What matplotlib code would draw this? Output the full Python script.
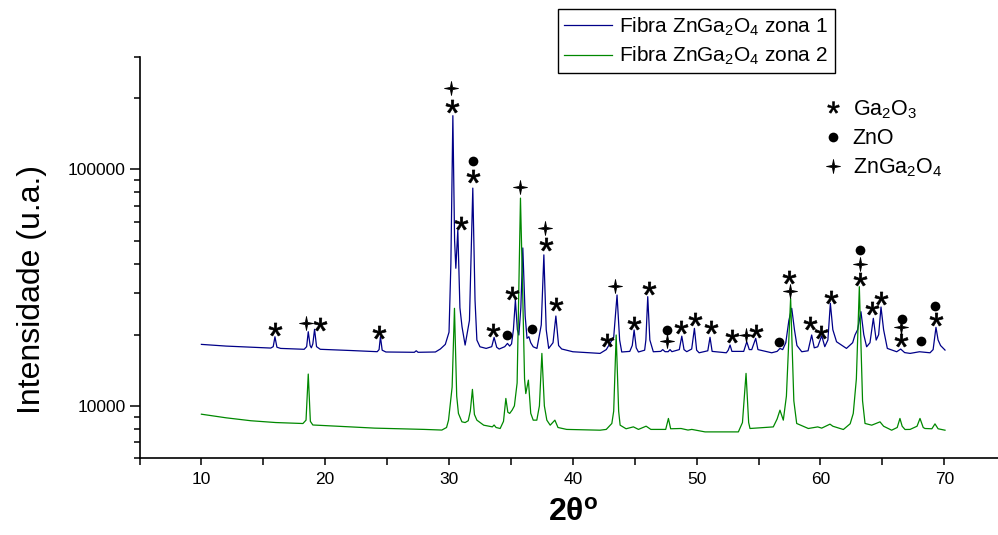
import matplotlib
matplotlib.use('Agg')
import matplotlib.pyplot as plt
from matplotlib.path import Path
from matplotlib.lines import Line2D
from matplotlib.ticker import FixedLocator, LogLocator, NullFormatter, FuncFormatter

plt.rcParams['font.family'] = ['Liberation Sans', 'DejaVu Sans']
plt.rcParams['mathtext.fontset'] = 'custom'
plt.rcParams['mathtext.rm'] = 'Liberation Sans'
plt.rcParams['mathtext.it'] = 'Liberation Sans:italic'
plt.rcParams['mathtext.bf'] = 'Liberation Sans:bold'

# ---------------- data ----------------
zona1_2theta = [10.0, 12.0, 14.0, 15.6, 15.8, 15.94, 16.1, 16.4,
                18.3, 18.5, 18.63, 18.78, 18.88, 19.0, 19.14, 19.3, 19.6,
                22.0, 24.2, 24.35, 24.46, 24.6, 24.9,
                27.2, 27.35, 27.5, 28.9, 29.3, 29.7, 30.0, 30.15, 30.31,
                30.45, 30.55, 30.71, 30.88, 31.05, 31.3, 31.65, 31.92, 32.1, 32.25, 32.5,
                33.0, 33.45, 33.64, 33.85, 34.05, 34.5, 34.72, 34.9, 35.05, 35.2, 35.36,
                35.52, 35.64, 35.8, 35.96, 36.15, 36.3, 36.45, 36.6, 36.8, 37.1, 37.45,
                37.66, 37.85, 38.05, 38.4, 38.63, 38.85, 39.1, 40.0, 42.2, 42.7, 43.0,
                43.3, 43.57, 43.78, 43.95, 44.6, 44.8, 44.95, 45.12, 45.3, 45.8, 45.9,
                46.05, 46.22, 46.5, 47.1, 47.26, 47.45, 47.7, 47.85, 48.0, 48.6, 48.8,
                48.98, 49.2, 49.6, 49.82, 50.0, 50.2, 50.9, 51.08, 51.25, 52.4, 52.55,
                52.7, 52.85, 53.8, 54.05, 54.25, 54.45, 54.77, 54.95, 56.06, 56.5, 56.73,
                56.95, 57.2, 57.45, 57.68, 57.9, 58.1, 58.49, 59.0, 59.29, 59.5, 59.78,
                60.1, 60.35, 60.6, 60.8, 61.0, 61.3, 62.1, 62.6, 62.79, 63.0, 63.27,
                63.5, 63.73, 64.0, 64.27, 64.5, 64.7, 64.89, 65.1, 65.4, 66.16, 66.48,
                66.8, 67.24, 68.0, 68.85, 69.1, 69.33, 69.5, 69.7, 70.06]
zona1_intensity = [18200, 17900, 17700, 17560, 17800, 19600, 17700, 17500,
                   17350, 17800, 20590, 18000, 17600, 18300, 21080, 17800, 17350,
                   17150, 16950, 17300, 19610, 17200, 16900,
                   16850, 17100, 16850, 16900, 17400, 18200, 20500, 40000, 168900,
                   50000, 38210, 55540, 26000, 21600, 18080, 23000, 83410, 28000, 18980, 17780,
                   17500, 17800, 19480, 17700, 17390, 17800, 18370, 17900, 18300, 21000, 28050,
                   21000, 19940, 26000, 46560, 24000, 19300, 19610, 18500, 17780, 17500, 22000,
                   43520, 21000, 17500, 18500, 23990, 18000, 17400, 16940, 16670, 17300, 18370,
                   19500, 29440, 19000, 16900, 17000, 18000, 20930, 17600, 16900, 17200, 19000,
                   28970, 19000, 16940, 17000, 17300, 16950, 16950, 17300, 16950, 17300, 19720,
                   17300, 16950, 17400, 21280, 17200, 16770, 17100, 19500, 17000, 16770, 17200,
                   18080, 17000, 17000, 18670, 17300, 17300, 19300, 17300, 16770, 17000, 17500,
                   17300, 18500, 23000, 25860, 21000, 18000, 16940, 17100, 19940, 17600, 17780,
                   19800, 17800, 19000, 27160, 21000, 18670, 17500, 18500, 19940, 21000, 25020,
                   20000, 17780, 18500, 23460, 18980, 20000, 26190, 21000, 17500, 16940, 17390,
                   16800, 16670, 16940, 16770, 17300, 21490, 19000, 18000, 17220]

zona2_2theta = [10.0, 12.0, 14.0, 16.0, 18.2, 18.45, 18.63, 18.8, 19.0, 20.0, 22.0,
                24.0, 26.0, 28.0, 29.42, 29.8, 29.96, 30.25, 30.44, 30.62, 30.76,
                31.04, 31.3, 31.55, 31.72, 31.89, 32.05, 32.25, 32.8, 33.5, 33.64,
                33.8, 34.13, 34.4, 34.59, 34.75, 34.9, 35.1, 35.28, 35.5, 35.77,
                35.95, 36.1, 36.2, 36.41, 36.6, 36.8, 37.09, 37.3, 37.5, 37.7,
                37.9, 38.17, 38.55, 38.8, 39.5, 42.2, 42.7, 43.15, 43.3, 43.5,
                43.7, 43.82, 44.3, 44.89, 45.3, 45.92, 46.3, 47.5, 47.72, 47.9,
                48.74, 49.3, 49.61, 50.68, 52.0, 53.37, 53.7, 53.99, 54.2, 54.31,
                56.19, 56.5, 56.73, 57.0, 57.25, 57.59, 57.85, 58.08, 59.02, 59.78,
                60.1, 60.77, 61.0, 61.85, 62.4, 62.65, 62.9, 63.14, 63.4, 63.6,
                64.14, 64.81, 65.1, 65.75, 66.2, 66.42, 66.6, 66.83, 67.24, 67.8,
                68.04, 68.3, 68.44, 69.0, 69.25, 69.5, 70.06]
zona2_intensity = [9220, 8900, 8650, 8500, 8420, 8700, 13630, 8600, 8300, 8250, 8150,
                   8050, 8000, 7950, 7900, 8100, 8700, 12000, 25860, 11000, 9290,
                   8560, 8500, 8650, 9500, 11740, 9200, 8700, 8285, 8150, 8300,
                   8100, 8020, 8600, 10750, 9400, 9290, 9600, 10000, 12500, 75660,
                   30000, 13000, 11270, 12850, 9300, 8700, 8700, 10000, 16670, 10000,
                   8700, 8285, 8700, 8100, 7950, 7890, 7950, 8424, 9500, 19940,
                   9500, 8285, 8000, 8150, 7950, 8204, 7950, 7950, 8845, 8000,
                   8021, 7900, 7950, 7760, 7760, 7760, 8500, 13720, 8500, 8021,
                   8147, 8800, 9590, 8700, 11000, 28520, 10500, 8424, 8021, 8147,
                   8050, 8368, 8200, 7943, 8400, 9287, 13000, 31930, 10500, 8424,
                   8285, 8557, 8200, 7889, 8100, 8845, 8200, 7943, 7950, 8200,
                   8845, 8100, 8021, 8000, 8390, 8000, 7889]

# phase identification marks (2theta, label height)
ga2o3_2theta = [19.54, 24.38, 30.28, 30.98, 31.92, 33.53, 35.12, 37.82, 38.65, 42.78,
                44.92, 46.16, 48.74, 49.87, 51.14, 52.88, 54.80, 57.49, 59.14, 60.03,
                60.89, 63.17, 64.20, 64.93, 66.54, 69.37, 15.94]
ga2o3_height = [22130, 20590, 186200, 59290, 93400, 20930, 29950, 48440, 26970, 18980,
                22400, 31450, 21490, 23310, 21610, 19740, 20790, 35210, 22340, 20460,
                28800, 34330, 25860, 28520, 18980, 23240, 21200]
zno_2theta = [31.97, 34.67, 36.71, 47.59, 56.68, 63.17, 66.59, 68.10, 69.29]
zno_height = [108900, 19940, 21080, 20930, 18670, 45680, 23240, 18850, 26530]
znga2o4_2theta = [18.47, 30.17, 35.74, 37.76, 43.41, 47.59, 53.96, 57.54, 63.17, 66.54]
znga2o4_height = [22470, 221300, 84220, 56790, 32030, 18850, 19940, 30720, 39730, 21490]

series_labels = ['Fibra ZnGa$_2$O$_4$ zona 1', 'Fibra ZnGa$_2$O$_4$ zona 2']
phase_labels = ['Ga$_2$O$_3$', 'ZnO', 'ZnGa$_2$O$_4$']
x_major_ticks = [10, 20, 30, 40, 50, 60, 70]
x_minor_ticks = [5, 15, 25, 35, 45, 55, 65]
y_major_ticks = [10000, 100000]

# ---------------- figure ----------------
W, H = 998, 535
fig = plt.figure(figsize=(W / 100, H / 100), dpi=100)
ax_l, ax_r, ax_t, ax_b = 139.5, 998, 56.7, 458.3
ax = fig.add_axes([ax_l / W, (H - ax_b) / H, (ax_r - ax_l) / W, (ax_b - ax_t) / H])
ax.set_yscale('log')
ax.set_xlim(5, 74.34)
ax.set_ylim(6000, 300000)

blue = '#000088'
green = '#008800'
l1, = ax.plot(zona1_2theta, zona1_intensity, color=blue, lw=0.9, label=series_labels[0])
l2, = ax.plot(zona2_2theta, zona2_intensity, color=green, lw=0.9, label=series_labels[1])

star_marker = '$*$'
cross_marker = Path.unit_regular_star(4, innerCircle=0.22)
ax.plot(ga2o3_2theta, ga2o3_height, ls='none', marker=star_marker, ms=9.5, color='k', mew=0.5, zorder=5)
ax.plot(zno_2theta, zno_height, ls='none', marker='o', ms=7, color='k', mew=0, zorder=5)
ax.plot(znga2o4_2theta, znga2o4_height, ls='none', marker=cross_marker, ms=10, color='k', mew=0.6, zorder=5)

for sp in ['top', 'right']:
    ax.spines[sp].set_visible(False)
for sp in ['left', 'bottom']:
    ax.spines[sp].set_linewidth(1.2)

ax.xaxis.set_major_locator(FixedLocator(x_major_ticks))
ax.xaxis.set_minor_locator(FixedLocator(x_minor_ticks))
ax.yaxis.set_major_locator(FixedLocator(y_major_ticks))
ax.yaxis.set_major_formatter(FuncFormatter(lambda v, p: '%d' % round(v)))
ax.yaxis.set_minor_locator(LogLocator(base=10, subs=[2, 3, 4, 5, 6, 7, 8, 9]))
ax.yaxis.set_minor_formatter(NullFormatter())
ax.tick_params(axis='both', which='both', direction='out', width=1.1, labelsize=12.5, colors='k')
ax.tick_params(axis='y', which='major', length=7, pad=3)
ax.tick_params(axis='y', which='minor', length=4.5)
ax.tick_params(axis='x', which='major', length=5, pad=5)
ax.tick_params(axis='x', which='minor', length=5)

ax.set_ylabel('Intensidade (u.a.)', fontsize=23)
ax.yaxis.set_label_coords((47 - ax_l) / (ax_r - ax_l), (ax_b - 290) / (ax_b - ax_t))
ax.set_xlabel('2θ$^{\\mathbf{o}}$', fontsize=23, fontweight='bold')
ax.xaxis.set_label_coords(0.505, (ax_b - 498) / (ax_b - ax_t))

leg1 = fig.legend(handles=[l1, l2], labels=series_labels, loc='upper left',
                  bbox_to_anchor=(558 / W, 1 - 9 / H), bbox_transform=fig.transFigure,
                  fontsize=15, frameon=True, fancybox=False, framealpha=1, edgecolor='k',
                  borderpad=0.3, handlelength=2.3, handletextpad=0.35, labelspacing=0.35,
                  borderaxespad=0)
leg1.get_frame().set_linewidth(1.0)

phase_handles = [Line2D([], [], ls='none', marker=star_marker, ms=8.5, color='k', mew=0.4),
                 Line2D([], [], ls='none', marker='o', ms=7, color='k', mew=0),
                 Line2D([], [], ls='none', marker=cross_marker, ms=10, color='k', mew=0.6)]
leg2 = fig.legend(handles=phase_handles, labels=phase_labels, loc='upper left',
                  bbox_to_anchor=(822.6 / W, 1 - 98 / H), bbox_transform=fig.transFigure,
                  fontsize=15.5, frameon=False, borderpad=0, handlelength=1.0,
                  handletextpad=0.4, labelspacing=0.35, borderaxespad=0)

fig.savefig('out.png', dpi=100)
